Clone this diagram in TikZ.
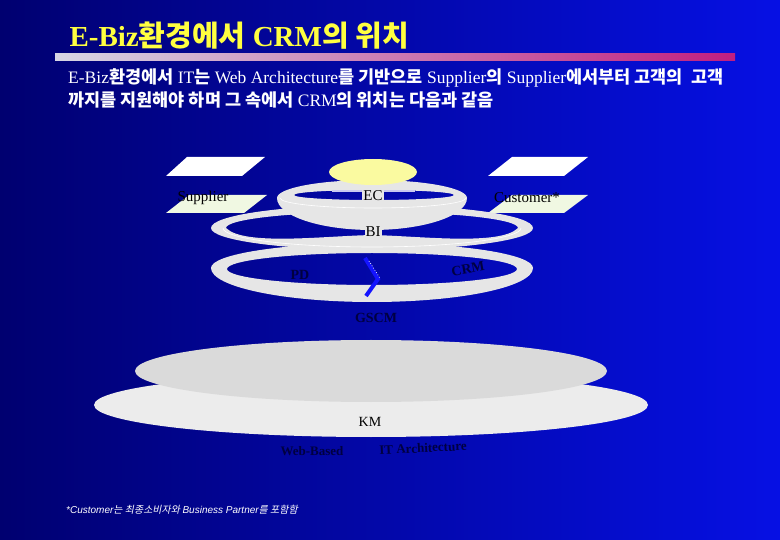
\documentclass[tikz,border=0pt]{standalone}
\usepackage{fontspec}
\setmainfont{Liberation Serif}
\newfontfamily\krfont{Noto Sans CJK KR}
\newfontfamily\krslant{Noto Sans CJK KR}[FakeSlant=0.2]
\newfontfamily\notesans{Liberation Sans}
\newcommand{\kor}[1]{{\krfont\bfseries #1}}
\usetikzlibrary{positioning}
\definecolor{bgleft}{RGB}{0,0,112}
\definecolor{bgright}{RGB}{6,16,228}
\definecolor{barleft}{RGB}{214,214,228}
\definecolor{barmid}{RGB}{204,140,186}
\definecolor{barright}{RGB}{192,30,128}
\definecolor{titleyellow}{RGB}{255,255,64}
\definecolor{ringgray}{RGB}{230,230,230}
\definecolor{diskdark}{RGB}{218,218,218}
\definecolor{disklight}{RGB}{236,236,236}
\definecolor{sunyellow}{RGB}{250,250,160}
\definecolor{palegreen}{RGB}{240,248,226}
\definecolor{lavline}{RGB}{200,200,240}
\definecolor{navytext}{RGB}{0,0,64}
\definecolor{chevblue}{RGB}{20,20,255}

\begin{document}
\begin{tikzpicture}[x=1pt, y=-1pt,
    lbl/.style={font=\fontsize{15}{17}\selectfont, text=black, inner sep=1pt},
    navylbl/.style={font=\fontsize{14}{16}\selectfont\bfseries, text=navytext, inner sep=1pt},
    rimline/.style={draw=white, line width=0.6pt},
    chev/.style={draw=chevblue, line width=4pt, line join=miter}]
  \shade[left color=bgleft, right color=bgright] (0,0) rectangle (780,540);
  \useasboundingbox (0,0) rectangle (780,540);

  \node[anchor=west, text=titleyellow, font=\fontsize{29}{31}\selectfont\bfseries] (title) at (66,36) {E-Biz\kor{환경에서} CRM\kor{의 위치}};
  \shade[left color=barleft, middle color=barmid, right color=barright] (55,54) rectangle (735,61);
  \node[anchor=west, text=white, font=\fontsize{17.5}{20}\selectfont, inner sep=0pt] (line1) at (68,78)
    {E-Biz\kor{환경에서} IT\kor{는} Web Architecture\kor{를 기반으로} Supplier\kor{의} Supplier\kor{에서부터 고객의}\ \ \kor{고객}};
  \node[anchor=west, text=white, font=\fontsize{17.5}{20}\selectfont, inner sep=0pt] (line2) at (68,100)
    {\kor{까지를 지원해야 하며 그 속에서} CRM\kor{의 위치는 다음과 같음}};

  \begin{scope}
    \fill[white] (187,157) -- (265,157) -- (242,176) -- (166,176) -- cycle;
    \fill[palegreen] (189,195) -- (267,195) -- (244,213) -- (166,213) -- cycle;
    \fill[white] (512,157) -- (588,157) -- (564,176) -- (488,176) -- cycle;
    \fill[palegreen] (512,195) -- (588,195) -- (564,213) -- (488,213) -- cycle;
    \node[lbl] (supplier) at (203,198) {Supplier};
    \node[lbl] (customer) at (527,198) {Customer*};
  \end{scope}

  \begin{scope}
    \fill[disklight] (371,405) ellipse[x radius=277pt, y radius=32pt];
    \fill[diskdark] (371,371) ellipse[x radius=236pt, y radius=31pt];
    \node[font=\fontsize{14}{16}\selectfont, inner sep=1pt] (km) at (370,422) {KM};
    \node[navylbl, font=\fontsize{13}{15}\selectfont\bfseries] (webbased) at (312,451) {Web-Based};
    \node[navylbl, font=\fontsize{13}{15}\selectfont\bfseries, rotate=3] (itarch) at (423,448) {IT Architecture};
  \end{scope}

  \begin{scope}
    \fill[ringgray, even odd rule] (211,268) arc[start angle=180, end angle=0, x radius=161pt, y radius=25pt]
      arc[start angle=0, end angle=-180, x radius=161pt, y radius=34pt] -- cycle
      (372,269) ellipse[x radius=145pt, y radius=16pt];
    \fill[ringgray, even odd rule] (211,228) arc[start angle=180, end angle=0, x radius=161pt, y radius=23pt]
      arc[start angle=0, end angle=-180, x radius=161pt, y radius=22pt] -- cycle
      (226,228) arc[start angle=180, end angle=0, x radius=146pt, y radius=16pt]
      .. controls (500,246) and (420,236) .. (372,235) .. controls (324,236) and (244,246) .. (226,228) -- cycle;
    \draw[rimline] (223,228) arc[start angle=180, end angle=360, x radius=149pt, y radius=19pt];
    \fill[ringgray, even odd rule] (277,198) arc[start angle=180, end angle=0, x radius=95pt, y radius=18pt]
      arc[start angle=0, end angle=-180, x radius=95pt, y radius=32pt] -- cycle
      (374,195) ellipse[x radius=80pt, y radius=5pt];
    \draw[rimline] (280,198) arc[start angle=180, end angle=360, x radius=93pt, y radius=10pt];
    \draw[lavline, line width=2pt] (332,191) -- (415,191);
    \fill[sunyellow] (373,172) ellipse[x radius=44pt, y radius=13pt];
    \node[lbl, fill=ringgray] (ec) at (373,196) {EC};
    \node[lbl, fill=ringgray] (bi) at (373,232) {BI};
    \node[navylbl] (pd) at (300,275) {PD};
    \node[navylbl, rotate=10] (crm) at (468,269) {CRM};
    \node[navylbl] (gscm) at (376,318) {GSCM};
    \draw[chev] (365,258) -- (378,279) -- (366,296);
    \draw[white, line width=0.7pt, dotted] (369,261) -- (380.5,279);
  \end{scope}

  \node[anchor=west, text=white, font=\fontsize{10}{12}\selectfont, inner sep=0pt] (note) at (66,510)
    {{\notesans\itshape *Customer}{\krslant 는 최종소비자와} {\notesans\itshape Business Partner}{\krslant 를 포함함}};
\end{tikzpicture}
\end{document}
